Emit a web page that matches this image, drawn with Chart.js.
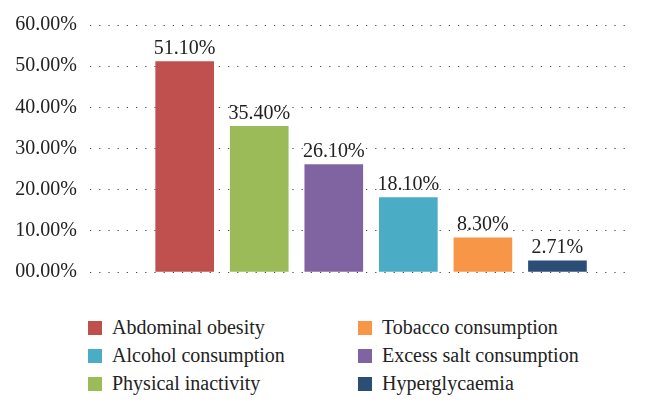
<!DOCTYPE html>
<html>
<head>
<meta charset="utf-8">
<script src="https://cdn.jsdelivr.net/npm/chart.js@4"></script>
<style>
  body { margin: 0; background: #fff; }
  #wrap { position: relative; width: 656px; height: 411px; }
  #chart-box { position: absolute; left: 0; top: 0; width: 656px; height: 300px; }
  #legend { position: absolute; left: 88px; top: 313px; width: 568px;
            font-family: "Liberation Serif", serif; font-size: 20px; color: #222; }
  .item { position: absolute; white-space: nowrap; line-height: 28px; }
  .item span.box { display: inline-block; width: 14px; height: 14px; margin-right: 10px; vertical-align: -1px; }
</style>
</head>
<body>
<div id="wrap">
  <div id="chart-box"><canvas id="bars"></canvas></div>
  <div id="legend"></div>
</div>
<script>
const categories = ['Abdominal obesity', 'Physical inactivity', 'Excess salt consumption',
                    'Alcohol consumption', 'Tobacco consumption', 'Hyperglycaemia'];
const values = [51.10, 35.40, 26.10, 18.10, 8.30, 2.71];
const colors = ['#c0504d', '#9bbb59', '#8064a2', '#4bacc6', '#f79646', '#2c4d75'];
const yTicks = [0, 10, 20, 30, 40, 50, 60];
// legend reads row by row, two columns
const legendOrder = ['Abdominal obesity', 'Tobacco consumption', 'Alcohol consumption',
                     'Excess salt consumption', 'Physical inactivity', 'Hyperglycaemia'];

const fmtTick = v => String(v).padStart(2, '0') + '.00%';

const valueLabels = {
    id: 'valueLabels',
    afterDatasetsDraw(chart) {
        const ctx = chart.ctx;
        const meta = chart.getDatasetMeta(0);
        ctx.save();
        ctx.font = '20px "Liberation Serif", serif';
        ctx.fillStyle = '#222';
        ctx.textAlign = 'center';
        ctx.textBaseline = 'bottom';
        meta.data.forEach((bar, i) => {
            ctx.fillText(values[i].toFixed(2) + '%', bar.x, bar.y - 3);
        });
        ctx.restore();
    }
};

new Chart(document.getElementById('bars'), {
    type: 'bar',
    data: {
        labels: categories,
        datasets: [{
            data: values.map((v, i) => ({ x: i, y: v })),
            backgroundColor: colors,
            barThickness: 58,
            borderWidth: 0
        }]
    },
    options: {
        responsive: true,
        maintainAspectRatio: false,
        animation: false,
        layout: { padding: { top: 20, right: 24, bottom: 28, left: 0 } },
        plugins: { legend: { display: false }, tooltip: { enabled: false } },
        scales: {
            x: {
                type: 'linear',
                offset: false,
                min: -1.27,
                max: 6,
                display: false
            },
            y: {
                min: 0,
                max: 60,
                afterFit: s => { s.width = 90; },
                afterBuildTicks: s => { s.ticks = yTicks.map(v => ({ value: v })); },
                border: { display: false, dash: [1.2, 8] },
                grid: { drawTicks: false, color: '#444', lineWidth: 1 },
                ticks: {
                    padding: 13,
                    color: '#222',
                    font: { family: '"Liberation Serif", serif', size: 20 },
                    callback: v => fmtTick(v)
                }
            }
        }
    },
    plugins: [valueLabels]
});

const legend = document.getElementById('legend');
legendOrder.forEach((name, i) => {
    const d = document.createElement('div');
    d.className = 'item';
    d.style.left = (i % 2 ? 270 : 0) + 'px';
    d.style.top = (Math.floor(i / 2) * 28) + 'px';
    d.innerHTML = '<span class="box" style="background:' + colors[categories.indexOf(name)] + '"></span>' + name;
    legend.appendChild(d);
});
</script>
</body>
</html>
